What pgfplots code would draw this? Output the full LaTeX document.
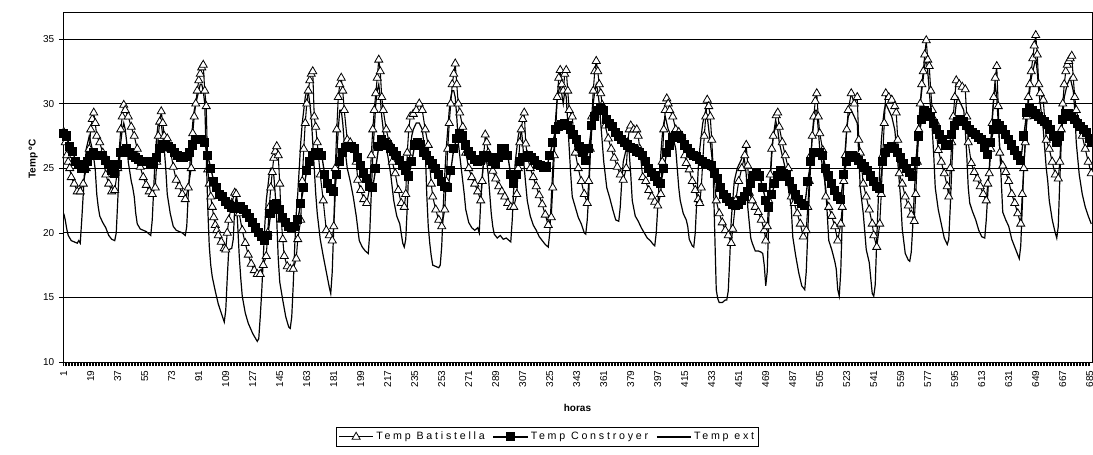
\documentclass[border=0pt]{standalone}
\usepackage{pgfplots}
\pgfplotsset{compat=1.18}
\usepackage{fontspec}
\setmainfont{Liberation Sans}
\newfontfamily\legfont[LetterSpace=26]{Liberation Sans}
\begin{document}
\begin{tikzpicture}
\begin{axis}[name=ax, scale only axis, width=771.75pt, height=262.5pt,
  xmin=0.5, xmax=686.5, ymin=10, ymax=37.1,
  xtick={1,19,...,685}, minor x tick num=17,
  ytick={10,15,...,35},
  ymajorgrids, major grid style={black, line width=0.6pt},
  axis line style={line width=0.6pt},
  tick align=outside, xtick pos=bottom, ytick pos=left,
  major tick length=3pt, minor tick length=3pt,
  every tick/.style={black, line width=0.5pt},
  /pgf/number format/assume math mode=true,
  xticklabel style={rotate=90, anchor=east, font=\fontsize{7.5}{8}\selectfont},
  yticklabel style={font=\fontsize{7.5}{8}\selectfont},
  xlabel={\textbf{horas}}, ylabel={\textbf{Temp ºC}},
  xlabel style={at={(axis description cs:0.5,-0.13)}, anchor=center, font=\fontsize{7.5}{8}\selectfont},
  ylabel style={at={(axis description cs:-0.029,0.58)}, anchor=center, font=\fontsize{7.5}{8}\selectfont},
  legend columns=3, legend cell align=left,
  legend style={at={(axis description cs:0.471,-0.214)}, anchor=center, draw=black, line width=0.5pt,
    font=\legfont\fontsize{8}{9}\selectfont, inner sep=1.5pt,
    /tikz/every even column/.append style={column sep=4pt}},
  legend image code/.code={\draw[mark repeat=2,mark phase=2,#1] plot coordinates {(0cm,0cm) (0.45cm,0cm) (0.9cm,0cm)};},
]
\addplot[black, line width=0.8pt, mark=triangle*, mark size=3.5pt, mark options={fill=white, draw=black, line width=0.6pt, solid}] coordinates {
(1,27.8)(2,27)(3,26)(4,25.5)(5,25)(6,24.3)(8,23.8)(10,23.2)(12,23.2)(14,23.8)(16,25)(18,26.5)(19,28)(20,28.8)(21,29.3)(22,28.5)(23,27.5)(25,27)(27,26.2)(29,24.5)(31,23.8)(33,23.2)(35,23.3)(37,25)(39,28)(40,29)(41,29.9)(42,29.5)(44,29)(46,28.2)(48,27.5)(50,26.5)(52,25.1)(54,24.3)(56,23.7)(58,23.2)(60,23)(62,23.5)(63,25.5)(64,27.5)(65,28.6)(66,29.4)(67,28.5)(68,27.5)(70,27.3)(72,26.5)(74,25.1)(76,24.1)(78,23.6)(80,23)(82,22.6)(84,23.5)(86,25)(87,27.7)(88,29)(89,30)(90,31)(91,31.8)(92,32.3)(93,32.8)(94,33)(95,31)(96,29.8)(97,24.9)(98,23.8)(99,22.8)(100,22)(101,21.2)(102,20.6)(103,20.2)(104,19.8)(106,19.3)(108,18.8)(109,18.7)(110,20)(111,21)(113,22.3)(115,23.1)(116,23)(118,21.5)(120,20.2)(122,19.2)(124,18.3)(126,17.6)(128,17.1)(130,16.8)(132,16.8)(134,17.5)(136,18.2)(137,20)(138,22)(139,23.5)(140,24.7)(141,25.8)(142,26.3)(143,26.7)(144,26)(145,23.8)(146,21)(147,19.5)(148,18.2)(150,17.4)(152,17.2)(154,17.2)(156,18)(157,19.5)(159,21)(160,24)(161,26.5)(162,28.5)(163,30)(164,31)(165,31.8)(166,32.3)(167,32.5)(168,29)(169,28.2)(170,27)(172,24.5)(174,22.5)(176,20.2)(178,19.8)(180,19.4)(181,20.5)(182,25)(183,28)(184,30.5)(185,31.5)(186,32)(187,31)(188,29.5)(190,27.2)(192,27)(194,26.5)(196,25.5)(197,24.1)(199,23.3)(201,22.6)(203,22.3)(205,23.5)(206,26)(207,28)(208,29.5)(209,30.8)(210,32)(211,33.4)(212,32.5)(213,30.5)(214,29.5)(216,28)(218,27)(220,25.5)(222,24.6)(224,23.3)(226,22.3)(228,22)(229,23)(230,26.2)(231,28)(232,29)(234,29.2)(236,29.5)(238,30)(240,29.5)(242,28)(244,26.8)(246,23.8)(247,22.8)(249,21.8)(251,21)(253,20.5)(255,21.8)(256,24)(257,26.5)(258,28.5)(259,30)(260,31.5)(261,32.3)(262,33.1)(263,31.5)(264,30)(265,29.3)(267,28.2)(269,26.2)(271,25)(273,24.3)(275,23.8)(277,23.2)(279,22.5)(280,24)(281,26)(282,27.6)(283,27)(284,26.2)(285,25.6)(287,24.8)(289,24.2)(291,23.6)(293,23.2)(295,22.8)(297,22.3)(299,22)(301,22)(303,23)(304,25)(305,27)(306,28)(307,28.8)(308,29.3)(309,26.9)(310,26)(312,25)(314,24.3)(316,23.6)(318,22.9)(320,22.2)(322,21.4)(324,20.6)(326,21.2)(327,23.5)(328,26)(329,28)(330,30.5)(331,32)(332,32.6)(333,31.5)(334,31)(335,32.3)(336,32.6)(337,31)(338,29.5)(340,29)(342,26.2)(344,25)(346,24)(348,23)(350,22.3)(351,24)(352,26.5)(353,29)(354,31)(355,32.5)(356,33.3)(357,32.5)(358,31.5)(359,30.8)(360,29.9)(362,28.3)(364,27.3)(366,26.5)(368,25.8)(370,25.1)(372,24.5)(374,24.1)(376,25)(377,27)(378,28)(379,28.3)(381,28)(383,28)(384,27.5)(385,26.5)(387,24.3)(389,24)(391,23.3)(393,22.8)(395,22.4)(397,22.1)(399,23)(400,25.5)(401,28)(402,29.5)(403,30.4)(404,30)(405,29.5)(407,29)(409,28)(411,27.8)(413,27.5)(415,26)(416,25.4)(418,24.9)(420,24)(422,23.3)(424,22.6)(425,22.3)(426,23.5)(427,25.5)(428,27.5)(429,29)(430,30.3)(431,29.8)(432,29)(433,27.2)(434,25)(436,22.5)(438,21.5)(440,20.8)(442,20.2)(444,19.8)(446,19.2)(447,20.3)(449,22.5)(451,24)(453,25)(455,26)(456,26.8)(457,25.2)(458,23.1)(460,22.5)(462,22)(464,21.6)(466,21)(468,20.2)(469,19.4)(470,20.5)(471,22.5)(472,24.5)(473,26.5)(474,27.5)(476,29.1)(477,29.3)(478,28.2)(480,27)(482,26)(484,25)(486,22.8)(488,22.3)(490,21.5)(492,20.7)(494,19.7)(496,20.2)(497,22)(498,24)(499,26)(500,27.5)(501,29)(502,30.2)(503,30.8)(504,29)(505,27.7)(507,26.4)(509,22.8)(511,22)(513,21.3)(515,20.5)(517,19.4)(519,20.7)(520,22)(521,24)(522,26)(523,28)(524,29.5)(526,30.8)(528,30)(530,30.5)(531,27.2)(532,26.2)(534,23.8)(536,22.8)(538,21.8)(540,20.7)(541,19.8)(543,18.9)(545,20.7)(546,23)(547,26)(548,28.5)(549,30.8)(551,30.5)(553,30.3)(555,29.8)(556,29.3)(557,27.2)(558,24.6)(560,23.8)(562,22.8)(564,22.1)(566,21.4)(568,20.9)(569,23)(570,25.5)(571,28)(572,30)(573,31.5)(574,32.5)(575,33.8)(576,34.9)(577,33.4)(578,32.9)(579,31)(580,29.5)(582,28.6)(584,26.4)(586,25.5)(588,24.6)(590,23.6)(591,22.8)(592,25)(593,27)(594,29)(595,30.5)(596,31.8)(598,31.5)(600,31.3)(602,31.1)(603,29)(604,27)(606,25.4)(608,24.7)(610,24.2)(612,23.6)(614,23)(616,22.5)(617,23.8)(618,24.6)(619,26.5)(620,28.5)(621,30.5)(622,32)(623,32.9)(624,29.8)(625,26.2)(627,25.2)(629,24.7)(631,24)(633,23)(635,22.3)(637,21.5)(639,20.7)(640,23)(641,25)(642,27)(643,29)(644,30.5)(645,31.5)(646,32.5)(647,33.5)(648,34.5)(649,35.3)(650,33.8)(651,31.5)(652,30.8)(654,30.3)(656,27.2)(658,26.5)(660,25.5)(662,24.5)(664,24.2)(665,25.5)(666,28)(667,30)(668,31.5)(669,32.5)(670,33)(671,33.3)(672,33.5)(673,33.7)(674,32)(675,30.5)(676,29.5)(678,28.5)(680,27.5)(682,26.5)(684,25.5)(686,24.6)
};
\addlegendentry{Temp Batistella}
\addplot[black, line width=1pt, mark=square*, mark size=2.9pt, mark options={fill=black, solid}] coordinates {
(1,27.7)(3,27.5)(5,26.7)(7,26.3)(9,25.5)(11,25.3)(13,25)(15,25)(17,25.5)(19,26)(21,26.2)(23,26)(25,26)(27,26)(29,25.6)(31,25.3)(33,24.8)(35,24.6)(37,25.3)(39,26.2)(41,26.4)(43,26.5)(45,26.2)(47,26)(49,25.8)(51,25.7)(53,25.5)(55,25.5)(57,25.5)(59,25.4)(61,25.3)(63,25.8)(65,26.5)(67,26.8)(69,26.8)(71,26.7)(73,26.5)(75,26.2)(77,26)(79,25.8)(81,25.8)(83,25.9)(85,26.2)(87,26.8)(89,27.2)(91,27.2)(93,27.2)(95,27)(97,26)(99,25)(101,24)(103,23.5)(105,23)(107,22.8)(109,22.4)(111,22.2)(113,22)(115,21.9)(117,22)(119,22)(121,21.8)(123,21.5)(125,21.2)(127,20.8)(129,20.4)(131,20)(133,19.7)(135,19.4)(137,19.8)(139,21.5)(141,22.2)(143,22.3)(145,21.8)(147,21.2)(149,20.8)(151,20.5)(153,20.4)(155,20.5)(157,21)(159,22.3)(161,23.5)(163,24.8)(165,25.5)(167,26)(169,26.2)(171,26.2)(173,26)(175,24.5)(177,23.8)(179,23.4)(181,23.2)(183,24.5)(185,25.5)(187,26.2)(189,26.6)(191,26.7)(193,26.7)(195,26.5)(197,25.8)(199,25.2)(201,24.6)(203,24.2)(205,23.6)(207,23.5)(209,25)(211,26.7)(213,27.2)(215,27)(217,26.8)(219,26.5)(221,26.3)(223,26)(225,25.6)(227,25.2)(229,24.8)(231,24.4)(233,25.5)(235,26.8)(237,27)(239,26.8)(241,26.2)(243,26)(245,25.6)(247,25.4)(249,25)(251,24.5)(253,24)(255,23.6)(257,23.5)(259,24.8)(261,26.5)(263,27.3)(265,27.7)(267,27.5)(269,26.8)(271,26.3)(273,26)(275,25.7)(277,25.5)(279,25.6)(281,26)(283,26)(285,25.8)(287,25.5)(289,25.3)(291,25.8)(293,26.5)(295,26.5)(297,26)(299,24.5)(301,23.8)(303,24.5)(305,25.5)(307,25.8)(309,25.8)(311,26)(313,25.8)(315,25.6)(317,25.3)(319,25.2)(321,25.1)(323,25.1)(325,26)(327,27)(329,28)(331,28.2)(333,28.4)(335,28.5)(337,28.3)(339,28)(341,27.6)(343,27.2)(345,26.7)(347,26.2)(349,25.6)(351,26.5)(353,28.3)(355,29)(357,29.5)(359,29.7)(361,29.5)(363,28.8)(365,28.5)(367,28.2)(369,27.8)(371,27.5)(373,27.2)(375,27)(377,26.8)(379,26.6)(381,26.5)(383,26.3)(385,26.2)(387,26)(389,25.5)(391,25)(393,24.7)(395,24.4)(397,24)(399,23.8)(401,25)(403,26.2)(405,26.8)(407,27.4)(409,27.5)(411,27.5)(413,27.3)(415,26.8)(417,26.5)(419,26.2)(421,26)(423,25.9)(425,25.7)(427,25.5)(429,25.4)(431,25.3)(433,25.2)(435,24.6)(437,24.2)(439,23.5)(441,23)(443,22.7)(445,22.4)(447,22.2)(449,22.1)(451,22.2)(453,22.5)(455,22.8)(457,23.2)(459,23.8)(461,24.4)(463,24.6)(465,24.4)(467,23.5)(469,22.5)(471,22)(473,23)(475,23.8)(477,24.4)(479,24.8)(481,24.6)(483,24.4)(485,24)(487,23.4)(489,23)(491,22.6)(493,22.3)(495,22.1)(497,24)(499,25.5)(501,26.2)(503,26.2)(505,26.2)(507,26)(509,25)(511,24.4)(513,23.8)(515,23.3)(517,22.8)(519,22.6)(521,24.5)(523,25.5)(525,26)(527,26)(529,25.8)(531,25.6)(533,25.4)(535,25.1)(537,24.8)(539,24.4)(541,24)(543,23.6)(545,23.4)(547,25.5)(549,26.2)(551,26.5)(553,26.7)(555,26.5)(557,26.2)(559,25.8)(561,25.4)(563,25)(565,24.7)(567,24.4)(569,25.5)(571,27.5)(573,28.8)(575,29.5)(577,29.3)(579,29)(581,28.5)(583,28)(585,27.6)(587,27.2)(589,26.8)(591,26.8)(593,27.6)(595,28.3)(597,28.6)(599,28.8)(601,28.6)(603,28.3)(605,28)(607,27.8)(609,27.6)(611,27.4)(613,27.2)(615,26.6)(617,26.1)(619,27)(621,28)(623,28.5)(625,28.3)(627,28)(629,27.6)(631,27.2)(633,26.8)(635,26.4)(637,26)(639,25.6)(641,27.5)(643,29.3)(645,29.6)(647,29.5)(649,29.2)(651,29)(653,28.8)(655,28.6)(657,28.4)(659,28)(661,27.5)(663,27)(665,27.5)(667,28.8)(669,29.2)(671,29.2)(673,29)(675,28.8)(677,28.5)(679,28.2)(681,28)(683,27.8)(685,27.3)(686,27)
};
\addlegendentry{Temp Constroyer}
\addplot[black, line width=0.9pt] coordinates {
(1,21.5)(2,21)(3,20.3)(4,19.8)(6,19.4)(8,19.3)(10,19.2)(11,19.4)(12,19.2)(13,21)(14,23)(15,25)(16,26.5)(17,27)(18,27.5)(19,27)(20,26.5)(21,25.8)(22,24.9)(23,23)(24,22)(25,21.3)(27,20.8)(29,20.4)(31,19.8)(33,19.5)(35,19.4)(36,20)(37,22.5)(38,25)(39,27)(40,28)(41,28.5)(42,28)(43,27)(44,25.5)(46,24)(47,23.5)(48,22.8)(49,21.5)(50,20.7)(52,20.3)(54,20.2)(56,20.1)(58,19.9)(59,19.8)(60,21)(61,23.5)(62,26)(63,27.5)(64,28.5)(65,28.8)(66,28.5)(67,27.5)(68,26.5)(69,25)(70,23)(72,21.5)(74,20.5)(76,20.2)(78,20.1)(80,20)(82,19.8)(83,20.5)(84,23)(85,25)(86,27)(87,28.5)(88,29.5)(89,30)(90,30.5)(91,31)(92,31.5)(93,31.5)(94,31)(95,30)(96,26)(97,22)(98,19)(99,17.5)(100,16.6)(102,15.5)(104,14.5)(106,13.8)(108,13.1)(109,14)(110,16.5)(111,18.7)(113,18.8)(114,19.5)(115,22)(116,22.8)(117,20.5)(118,18.2)(119,16.5)(120,15.1)(122,13.8)(124,13)(127,12.2)(130,11.6)(131,11.8)(132,13.5)(133,15.5)(134,18)(135,20.5)(136,22.5)(137,23.5)(138,24.5)(139,25)(140,25)(141,24.5)(142,23)(143,21)(144,18)(145,16.2)(147,14.8)(149,13.5)(151,12.7)(152,12.6)(153,13.5)(154,16)(155,19)(156,21.5)(157,23)(158,25)(159,27)(160,28.5)(161,29.5)(162,30.5)(163,31)(164,31)(165,30)(166,29)(167,27)(168,25)(169,23)(170,21.5)(172,19.5)(174,18.2)(176,17)(178,15.8)(179,15.3)(180,17)(181,20.5)(182,23)(183,26)(184,28)(185,29.5)(186,29.5)(187,28.5)(188,27)(190,25)(192,24)(194,22.8)(196,21.3)(198,19.4)(200,18.9)(202,18.6)(204,18.4)(205,20)(206,23)(207,26)(208,28)(209,30)(210,31)(211,31.5)(212,30.5)(213,29)(215,27)(217,26)(219,24.5)(221,22.5)(223,21.3)(225,20.7)(227,19.2)(228,18.9)(229,19.5)(230,22)(231,25)(232,26.5)(233,27.5)(234,28)(236,28.5)(238,28.5)(240,28)(241,27)(242,26.5)(243,23)(244,20.5)(245,19.2)(246,18.2)(247,17.5)(249,17.4)(251,17.3)(252,17.5)(253,19)(254,22)(255,24.5)(256,26.5)(257,28)(258,29.5)(259,30.5)(260,31)(261,31)(262,30.5)(263,29)(264,27)(266,25)(268,23)(269,21.8)(271,20.8)(273,20.4)(275,20.2)(277,20.4)(278,20)(279,22.5)(280,24.5)(281,25.5)(282,26)(283,25.5)(284,24.5)(285,23)(286,21.5)(287,20.5)(288,19.9)(290,19.6)(292,19.8)(294,19.5)(296,19.6)(298,19.4)(299,19.3)(300,21)(301,23.5)(302,25.5)(303,26.5)(304,27.5)(305,28)(306,28)(307,27)(308,25)(310,22.5)(312,21.3)(314,20.6)(316,20.2)(318,19.7)(320,19.4)(322,19.1)(324,18.9)(325,20)(326,22.5)(327,25)(328,27)(329,29)(330,30.5)(331,31)(332,31.5)(334,30)(335,31)(336,30.5)(337,28.5)(338,26.5)(339,24.5)(340,22.8)(342,22)(344,21.2)(346,20.7)(348,20)(349,19.9)(350,21)(351,23)(352,26)(353,28)(354,30)(355,31)(356,31.5)(357,31)(358,30)(359,28.5)(360,27)(361,25.5)(363,23.5)(365,22.7)(367,21.8)(369,21)(371,20.9)(372,22)(373,24)(374,25.5)(375,26)(376,26.5)(377,26.5)(378,26.2)(379,24.5)(380,22.5)(382,21.3)(384,20.9)(386,20.4)(388,20)(390,19.6)(392,19.4)(394,19.1)(395,19)(396,20)(397,22)(398,24)(399,26)(400,27.5)(401,28.5)(402,29)(403,28.5)(404,28)(406,27.5)(408,27)(409,26.5)(410,25)(411,23.5)(412,22.5)(414,21.5)(416,21)(417,20.5)(418,19.5)(420,19)(421,18.9)(422,20)(423,22.5)(424,25)(425,26.5)(426,27.5)(427,28.5)(428,29)(429,29.5)(430,29)(431,28)(432,27)(433,26)(434,24.5)(435,20)(436,15.6)(437,14.9)(438,14.6)(440,14.6)(442,14.8)(443,14.8)(444,15.5)(445,18)(446,21)(447,22.5)(448,24)(450,25)(452,25.5)(454,26)(455,25.5)(456,24.5)(457,22)(459,19.6)(460,19.2)(462,18.6)(464,18.6)(466,18.5)(467,18.4)(468,17.5)(469,15.9)(470,17)(471,21)(472,24)(473,26)(474,27.5)(475,28)(476,28.5)(477,28)(478,27)(480,26)(482,25)(484,23.5)(486,22)(487,19.7)(489,18.2)(491,16.9)(493,15.9)(495,15.6)(496,17)(497,20)(498,23)(499,25.5)(500,27.5)(501,28.5)(502,29.5)(503,29.5)(504,28)(505,26.5)(507,25)(509,23.5)(511,19.4)(513,18.7)(515,17.8)(516,17.2)(517,15.6)(518,15.1)(519,17)(520,21)(521,24)(522,26.5)(523,28)(524,29)(526,29.5)(528,29)(530,28.5)(531,26)(532,23.5)(534,21.5)(536,18.7)(538,17.7)(540,15.3)(541,15.1)(542,16)(543,19.5)(544,22.5)(545,25)(546,27)(547,28.5)(548,29.5)(549,30)(551,29.5)(553,29)(555,28)(557,25.5)(559,22.5)(560,20.3)(562,18.4)(564,17.9)(565,17.8)(566,18.5)(567,20.5)(568,23)(569,25)(570,27)(571,28.5)(572,30)(573,31)(574,32)(575,33)(576,33.5)(577,32.5)(578,31)(579,29.5)(580,28)(581,26)(582,23.5)(584,21.8)(586,20.7)(588,19.6)(590,19.1)(591,19.5)(592,22)(593,25)(594,27.5)(595,29)(596,30)(597,30.5)(599,30)(601,29.5)(602,28)(603,26)(604,23.5)(605,22.3)(607,21.6)(609,21)(611,20.2)(613,19.7)(615,19.6)(616,21)(617,23)(618,25)(619,27)(620,29)(621,30.5)(622,31.5)(623,30.5)(624,28.5)(625,26.5)(627,21.6)(629,21)(631,20.5)(633,19.5)(635,18.9)(637,18.3)(638,18)(639,19)(640,22)(641,25)(642,27)(643,28.5)(644,30)(645,31)(646,32)(647,32.5)(648,33)(649,33.5)(650,32.5)(651,31)(652,30)(653,29)(654,28)(655,26.5)(656,25)(657,24)(658,22.5)(660,21)(662,20)(663,19.6)(664,20.5)(665,24)(666,27)(667,29)(668,30.5)(670,31.5)(672,32)(674,31)(675,29.5)(676,27)(678,24.5)(680,23)(682,22)(684,21.3)(686,20.7)
};
\addlegendentry{Temp ext}
\end{axis}
\pgfresetboundingbox
\path[use as bounding box] ([xshift=-47.25pt,yshift=-69pt]ax.south west) rectangle ([xshift=0.75pt,yshift=9pt]ax.north east);
\end{tikzpicture}
\end{document}
